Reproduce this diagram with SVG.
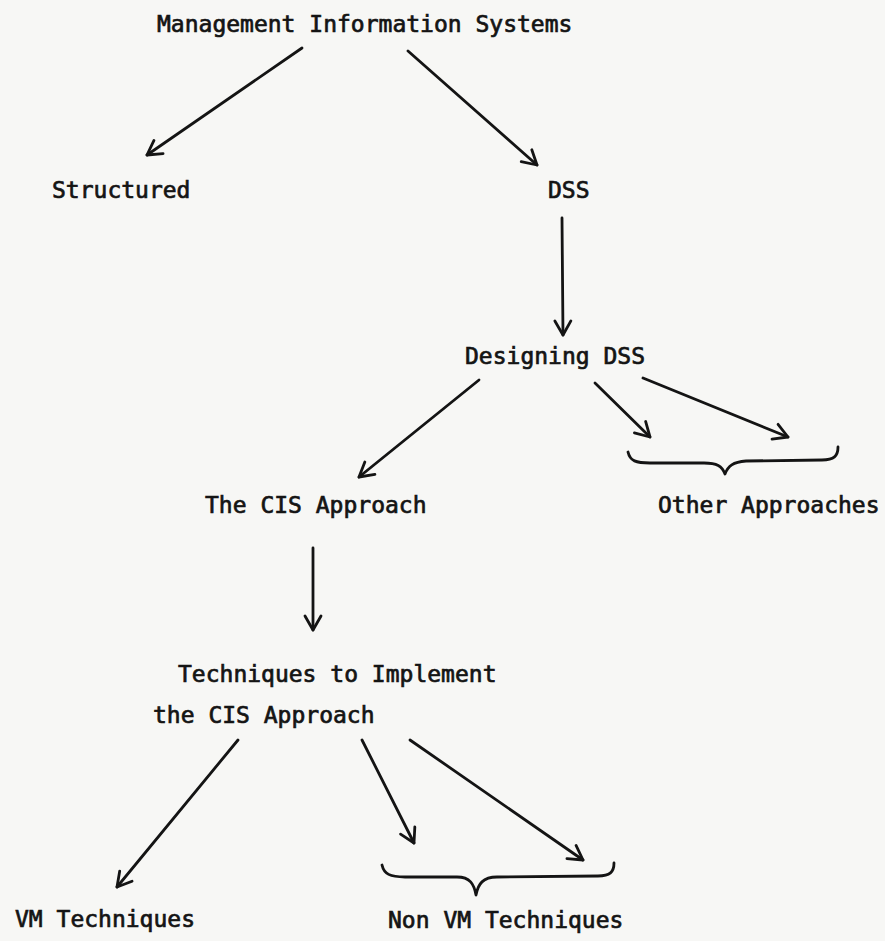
<svg xmlns="http://www.w3.org/2000/svg" width="885" height="941" viewBox="0 0 885 941">
  <style>
    .lbl { font-family: "DejaVu Sans Mono", "Liberation Mono", monospace; font-size: 23px; fill: #141414; stroke: #141414; stroke-width: 0.7px; }
    .edge { stroke: #141414; stroke-width: 2.8; fill: none; stroke-linecap: round; marker-end: url(#arrow); }
    .brace { stroke: #141414; stroke-width: 2.8; fill: none; stroke-linecap: round; stroke-linejoin: round; }
  </style>
  <defs>
    <marker id="arrow" markerUnits="userSpaceOnUse" markerWidth="22" markerHeight="22" refX="17" refY="10" orient="auto" viewBox="0 0 22 20">
      <path d="M3,2 L17,10 L3,18" fill="none" stroke="#141414" stroke-width="2.8" stroke-linecap="round" stroke-linejoin="round"/>
    </marker>
  </defs>
  <rect x="0" y="0" width="885" height="941" fill="#f7f7f5"/>

  <g id="mis"><text class="lbl" x="157" y="32">Management Information Systems</text></g>
  <g id="structured"><text class="lbl" x="52" y="198">Structured</text></g>
  <g id="dss"><text class="lbl" x="548" y="198">DSS</text></g>
  <g id="designing-dss"><text class="lbl" x="465" y="364">Designing DSS</text></g>
  <g id="cis-approach"><text class="lbl" x="205" y="513">The CIS Approach</text></g>
  <g id="other-approaches">
    <path class="brace" d="M628,452 C630,461 636,463 650,463 L704,463 C717,463 722,466 725,474 C728,466 733,462 746,461 L822,460 C834,460 838,456 838,447"/>
    <text class="lbl" x="658" y="513">Other Approaches</text>
  </g>
  <g id="techniques">
    <text class="lbl" x="178" y="682">Techniques to Implement</text>
    <text class="lbl" x="153" y="723">the CIS Approach</text>
  </g>
  <g id="vm-techniques"><text class="lbl" x="15" y="927">VM Techniques</text></g>
  <g id="non-vm-techniques">
    <path class="brace" d="M382,865 C384,874 390,877 405,877 L457,877 C470,877 474,884 476,895 C478,884 483,877 497,877 L598,876 C610,876 614,872 614,863"/>
    <text class="lbl" x="388" y="928">Non VM Techniques</text>
  </g>

  <g id="connectors">
    <line class="edge" x1="302" y1="48" x2="147" y2="155"/>
    <line class="edge" x1="408" y1="51" x2="537" y2="165"/>
    <line class="edge" x1="562" y1="218" x2="563" y2="335"/>
    <line class="edge" x1="479" y1="380" x2="359" y2="477"/>
    <line class="edge" x1="595" y1="383" x2="650" y2="437"/>
    <line class="edge" x1="643" y1="378" x2="788" y2="437"/>
    <line class="edge" x1="313" y1="548" x2="313" y2="630"/>
    <line class="edge" x1="238" y1="740" x2="117" y2="887"/>
    <line class="edge" x1="362" y1="740" x2="414" y2="843"/>
    <line class="edge" x1="410" y1="740" x2="583" y2="860"/>
  </g>
</svg>
